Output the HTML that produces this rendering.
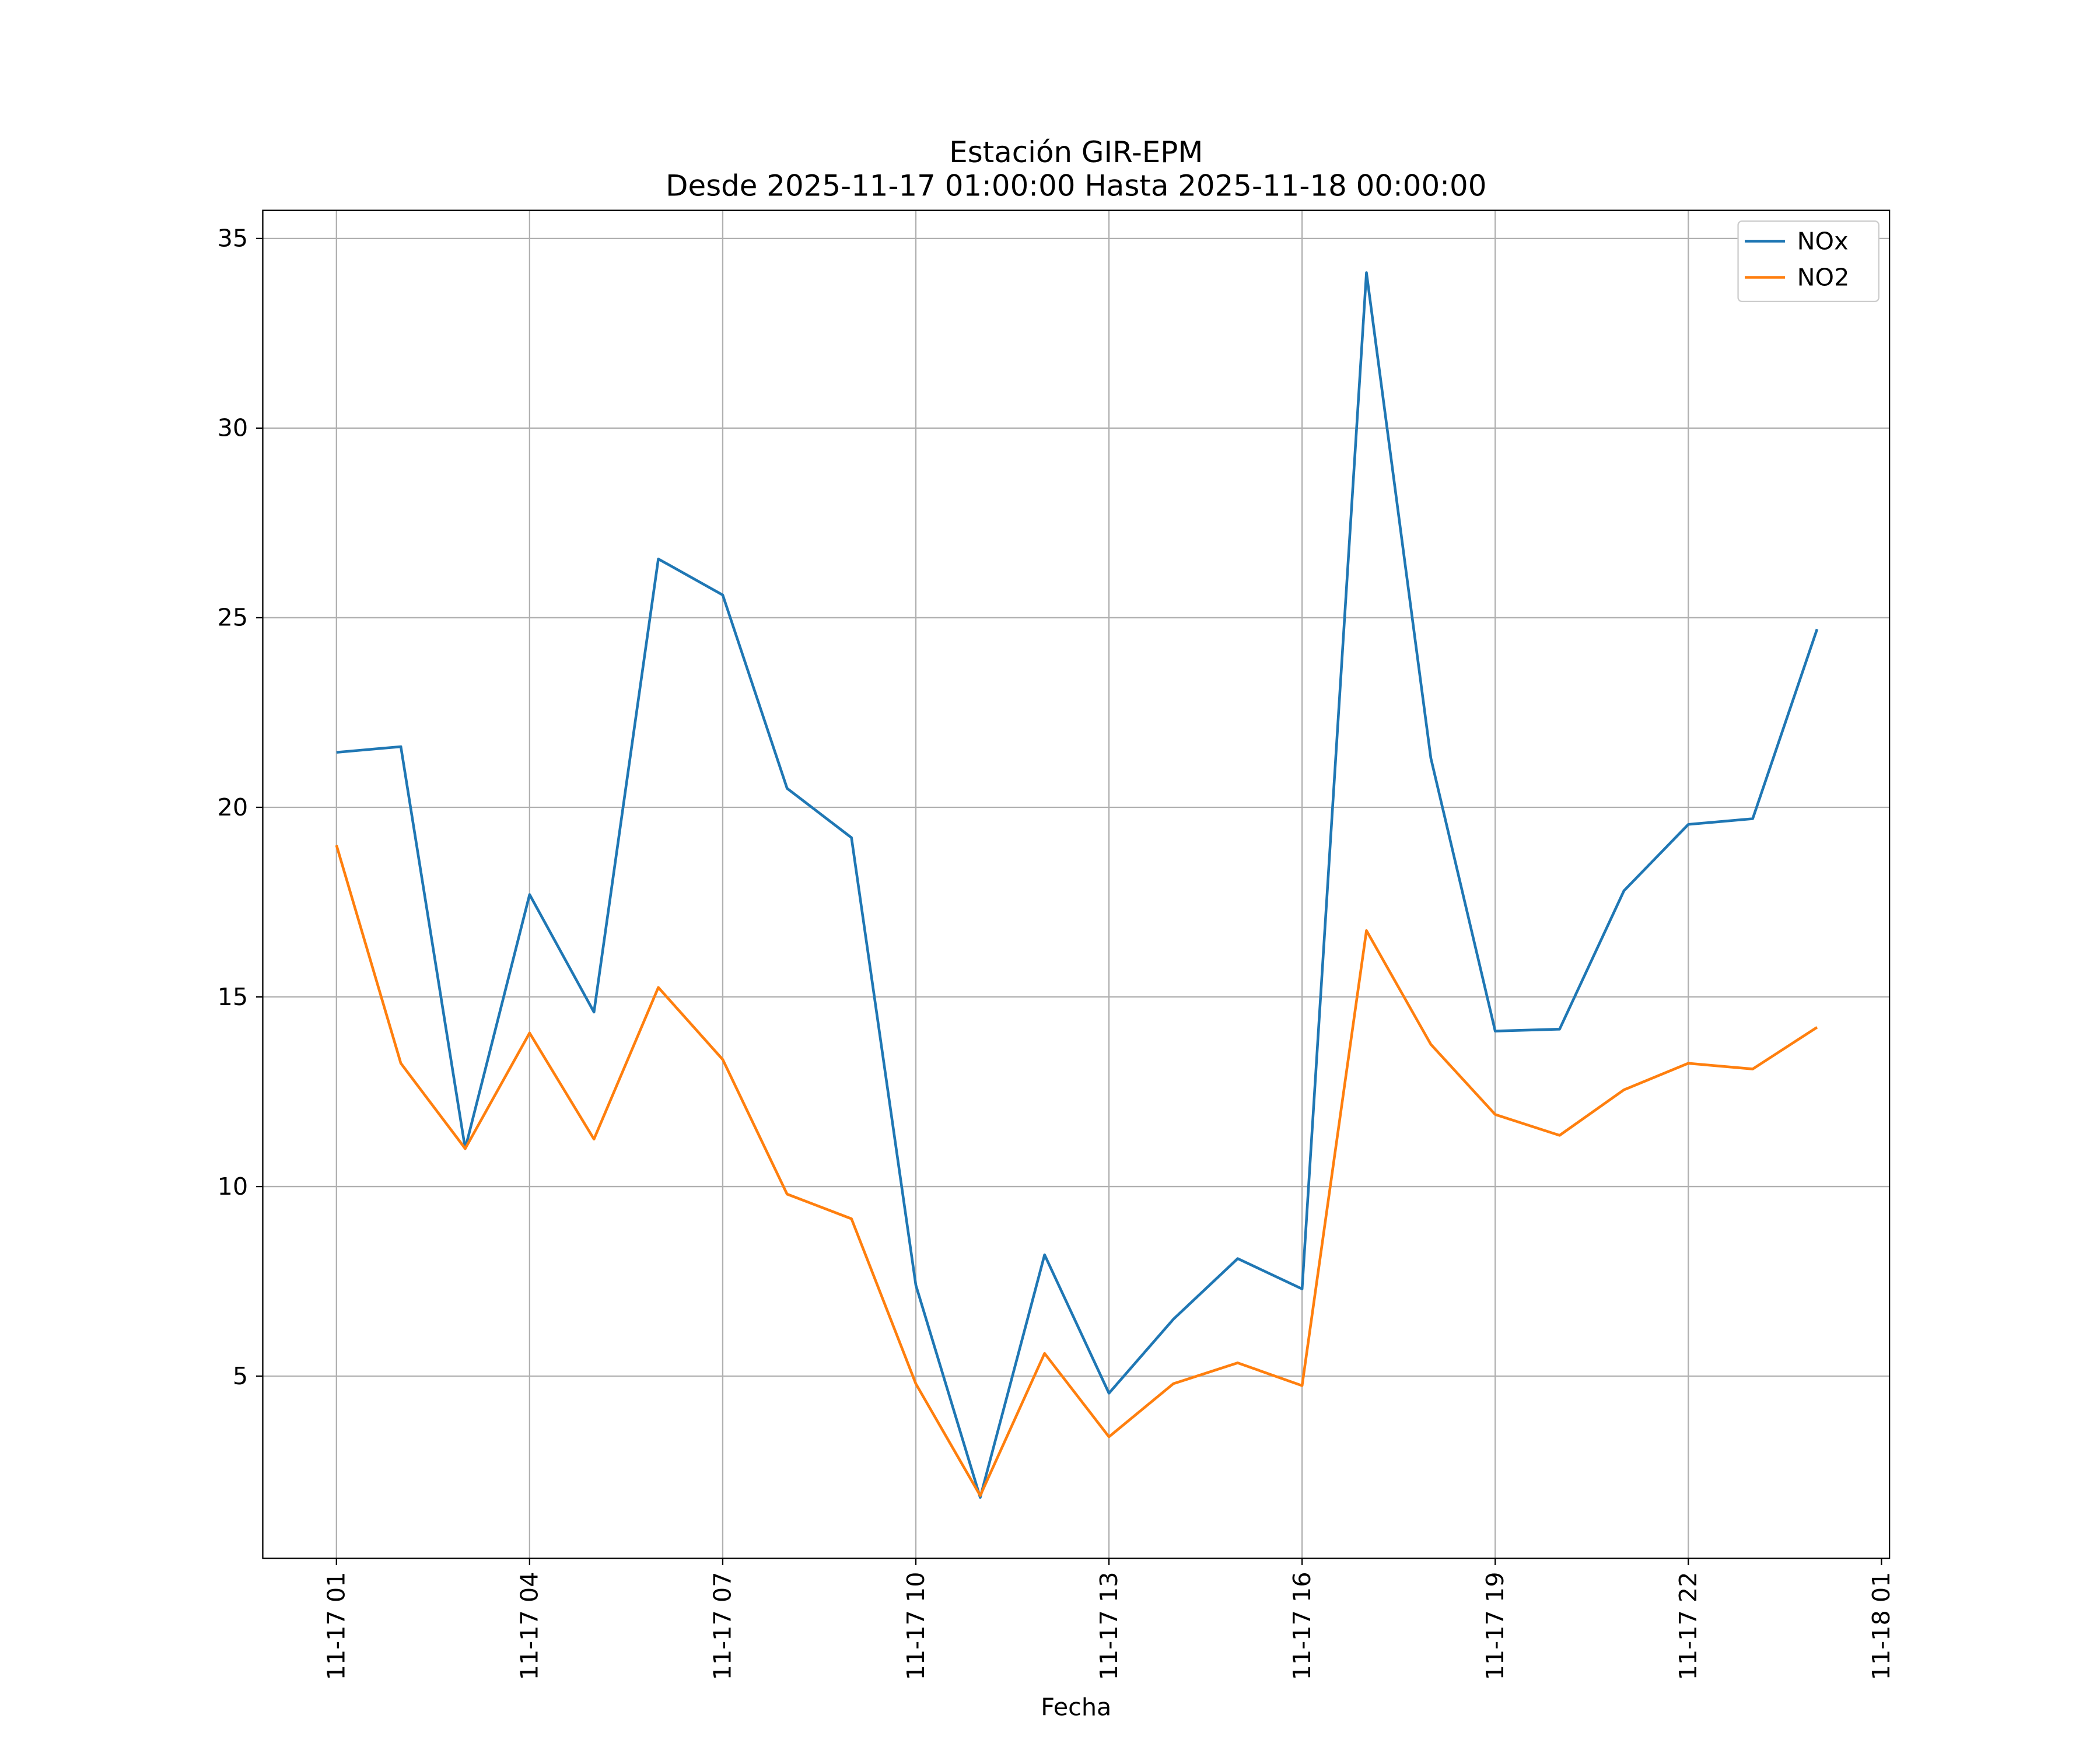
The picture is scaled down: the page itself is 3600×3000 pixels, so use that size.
<!DOCTYPE html>
<html><head><meta charset="utf-8"><style>
html,body{margin:0;padding:0;background:#fff;}
svg{display:block;font-family:"DejaVu Sans","Liberation Sans",sans-serif;}
</style></head><body>
<svg id="chart" width="3600" height="3000" viewBox="0 0 1567 1306" xmlns="http://www.w3.org/2000/svg">
<rect width="1567" height="1306" fill="#fff"/>
<g id="grid"></g>
<g id="series"></g>
<rect x="196" y="157" width="1214" height="1006" fill="none" stroke="#000" stroke-width="1"/>
<g id="ticks"></g>
<text x="803" y="121" font-size="21.7" text-anchor="middle">Estación GIR-EPM</text>
<text x="803" y="146" font-size="21.7" text-anchor="middle">Desde 2025-11-17 01:00:00 Hasta 2025-11-18 00:00:00</text>
<text x="803" y="1280" font-size="18" text-anchor="middle">Fecha</text>
<g>
<rect x="1297" y="165" width="105" height="60" fill="#fff" stroke="#ccc" rx="3"/>
<line x1="1302" y1="180" x2="1332" y2="180" stroke="#1f77b4" stroke-width="2"/>
<text x="1341" y="186" font-size="18">NOx</text>
<line x1="1302" y1="207" x2="1332" y2="207" stroke="#ff7f0e" stroke-width="2"/>
<text x="1341" y="213" font-size="18">NO2</text>
</g>
</svg>
<script>
const hours = [1,2,3,4,5,6,7,8,9,10,11,12,13,14,15,16,17,18,19,20,21,22,23,24];
const noxValues = [21.45,21.6,11.0,17.7,14.6,26.55,25.6,20.5,19.2,7.4,1.8,8.2,4.55,6.5,8.1,7.3,34.1,21.3,14.1,14.15,17.8,19.55,19.7,24.7];
const no2Values = [19.0,13.25,11.0,14.05,11.25,15.25,13.35,9.8,9.15,4.8,1.85,5.6,3.4,4.8,5.35,4.75,16.75,13.75,11.9,11.35,12.55,13.25,13.1,14.2];
const yTicks = [5,10,15,20,25,30,35];
const xTickHours = [1,4,7,10,13,16,19,22,25];
const xTickLabels = ["11-17 01","11-17 04","11-17 07","11-17 10","11-17 13","11-17 16","11-17 19","11-17 22","11-18 01"];

const NS="http://www.w3.org/2000/svg";
function xs(h){return 251+(h-1)*(1404-251)/24;}
function ys(v){return 1027-(v-5)*(1027-178)/30;}
function mk(tag,attrs,parent){const e=document.createElementNS(NS,tag);for(const k in attrs)e.setAttribute(k,attrs[k]);parent.appendChild(e);return e;}
const grid=document.getElementById('grid'),ticks=document.getElementById('ticks'),series=document.getElementById('series');
yTicks.forEach(v=>{
  const y=ys(v);
  const g=mk('line',{x1:196,x2:1410,y1:y,y2:y,stroke:'#b0b0b0','stroke-width':1},grid);
  
  
  mk('line',{x1:191,x2:196,y1:y,y2:y,stroke:'#000'},ticks);
  const t=mk('text',{x:185,y:y+6,'font-size':18,'text-anchor':'end'},ticks);
  t.textContent=v;
  
  
});
xTickHours.forEach((h,i)=>{
  const x=xs(h);
  if(h<=24){
    const g=mk('line',{x1:x,x2:x,y1:157,y2:1163,stroke:'#b0b0b0','stroke-width':1},grid);
    
    
  }
  mk('line',{x1:x,x2:x,y1:1163,y2:1168,stroke:'#000'},ticks);
  const t=mk('text',{x:x+6,y:1173,'font-size':18,'text-anchor':'end',transform:`rotate(-90 ${x+6} 1173)`},ticks);
  t.textContent=xTickLabels[i];
  
  
});
function line(vals,color,name){
  const p=mk('polyline',{points:vals.map((v,i)=>xs(hours[i])+','+ys(v)).join(' '),fill:'none',stroke:color,'stroke-width':2,'stroke-linejoin':'round'},series);
  
  
}
line(noxValues,'#1f77b4','nox-line');
line(no2Values,'#ff7f0e','no2-line');
</script>
</body></html>
